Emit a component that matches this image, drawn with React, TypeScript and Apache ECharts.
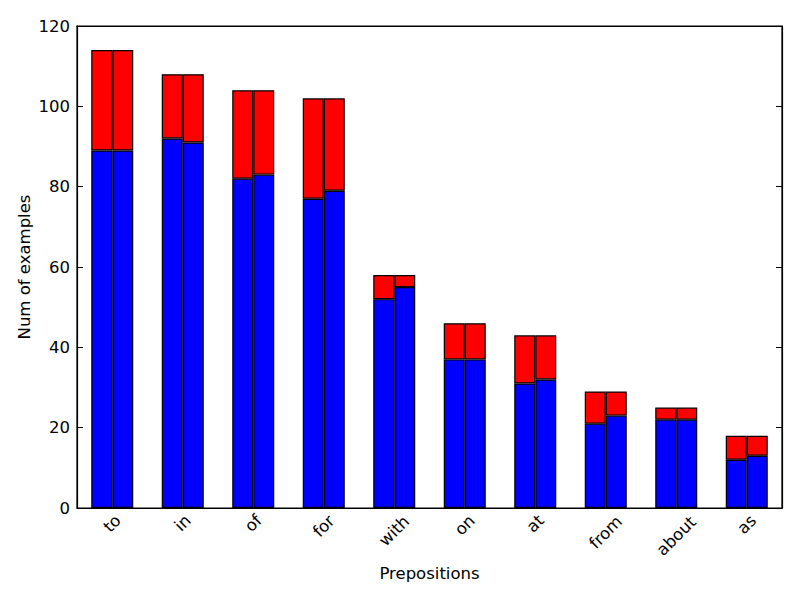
import React, { useEffect, useRef } from "react";
import * as echarts from "echarts";

const categories = ["to", "in", "of", "for", "with", "on", "at", "from", "about", "as"];
const blueA = [89, 92, 82, 77, 52, 37, 31, 21, 22, 12];
const blueB = [89, 91, 83, 79, 55, 37, 32, 23, 22, 13];
const totals = [114, 108, 104, 102, 58, 46, 43, 29, 25, 18];
const yTicks = [0, 20, 40, 60, 80, 100, 120];

const FONT = "DejaVu Sans";
const FS = 16.5;

export default function App() {
  const ref = useRef<HTMLDivElement>(null);
  useEffect(() => {
    if (!ref.current) return;
    const chart = echarts.init(ref.current, null, { renderer: "svg" });
    const canvas = document.createElement("canvas");
    const ctx = canvas.getContext("2d")!;
    ctx.font = `${FS}px "${FONT}"`;
    const rich: Record<string, any> = {};
    categories.forEach((c, i) => {
      const w = ctx.measureText(c).width;
      const d = 0.4 * w;
      const p = Math.SQRT2 * d;
      rich["l" + i] = {
        padding: [p, p, 0, 0],
        fontSize: FS,
        fontFamily: FONT,
        color: "#000",
      };
    });
    const redA = totals.map((t, i) => t - blueA[i]);
    const redB = totals.map((t, i) => t - blueB[i]);
    const barStyle = (color: string) => ({
      color,
      borderColor: "#000",
      borderWidth: 1.2,
    });
    const common = {
      type: "bar" as const,
      barWidth: 21,
      barGap: "0%",
      xAxisIndex: 0,
      yAxisIndex: 0,
    };
    const tick = { inside: true, length: 6, lineStyle: { color: "#000", width: 1 } };
    chart.setOption({
      animation: false,
      backgroundColor: "#fff",
      textStyle: { fontFamily: FONT },
      grid: {
        left: 77,
        right: 18,
        top: 26,
        bottom: 92,
        containLabel: false,
        show: true,
        borderColor: "#000",
        borderWidth: 1.2,
        backgroundColor: "transparent",
      },
      xAxis: [
        {
          type: "category",
          data: categories,
          position: "bottom",
          name: "Prepositions",
          nameLocation: "middle",
          nameGap: 57,
          nameMoveOverlap: false,
          nameTextStyle: { fontSize: FS, color: "#000", fontFamily: FONT },
          axisLine: { onZero: false, lineStyle: { color: "#000", width: 1.2 } },
          axisTick: { ...tick, alignWithLabel: true },
          axisLabel: {
            interval: 0,
            rotate: 45,
            align: "center",
            verticalAlign: "middle",
            margin: 9,
            fontSize: FS,
            color: "#000",
            fontFamily: FONT,
            formatter: (v: string, i: number) => `{l${i}|${v}}`,
            rich,
          },
        },
        {
          type: "category",
          data: categories,
          position: "top",
          axisLine: { onZero: false, lineStyle: { color: "#000", width: 1.2 } },
          axisTick: { ...tick, alignWithLabel: true },
          axisLabel: { show: false },
        },
      ],
      yAxis: [
        {
          type: "value",
          min: yTicks[0],
          max: yTicks[yTicks.length - 1],
          interval: 20,
          name: "Num of examples",
          nameLocation: "middle",
          nameGap: 44,
          nameMoveOverlap: false,
          nameTextStyle: { fontSize: FS, color: "#000", fontFamily: FONT },
          axisLine: { show: true, onZero: false, lineStyle: { color: "#000", width: 1.2 } },
          axisTick: { show: true, ...tick },
          axisLabel: { margin: 7, fontSize: FS, color: "#000", fontFamily: FONT },
          splitLine: { show: false },
        },
        {
          type: "value",
          position: "right",
          min: yTicks[0],
          max: yTicks[yTicks.length - 1],
          interval: 20,
          axisLine: { show: true, onZero: false, lineStyle: { color: "#000", width: 1.2 } },
          axisTick: { show: true, ...tick },
          axisLabel: { show: false },
          splitLine: { show: false },
        },
      ],
      series: [
        { ...common, name: "blueA", stack: "a", data: blueA, itemStyle: barStyle("#0000ff") },
        { ...common, name: "redA", stack: "a", data: redA, itemStyle: barStyle("#ff0000") },
        { ...common, name: "blueB", stack: "b", data: blueB, itemStyle: barStyle("#0000ff") },
        { ...common, name: "redB", stack: "b", data: redB, itemStyle: barStyle("#ff0000") },
      ],
    });
    return () => chart.dispose();
  }, []);
  return (
    <div
      ref={ref}
      style={{ position: "fixed", left: 0, top: 0, width: 800, height: 600, background: "#fff" }}
    />
  );
}
